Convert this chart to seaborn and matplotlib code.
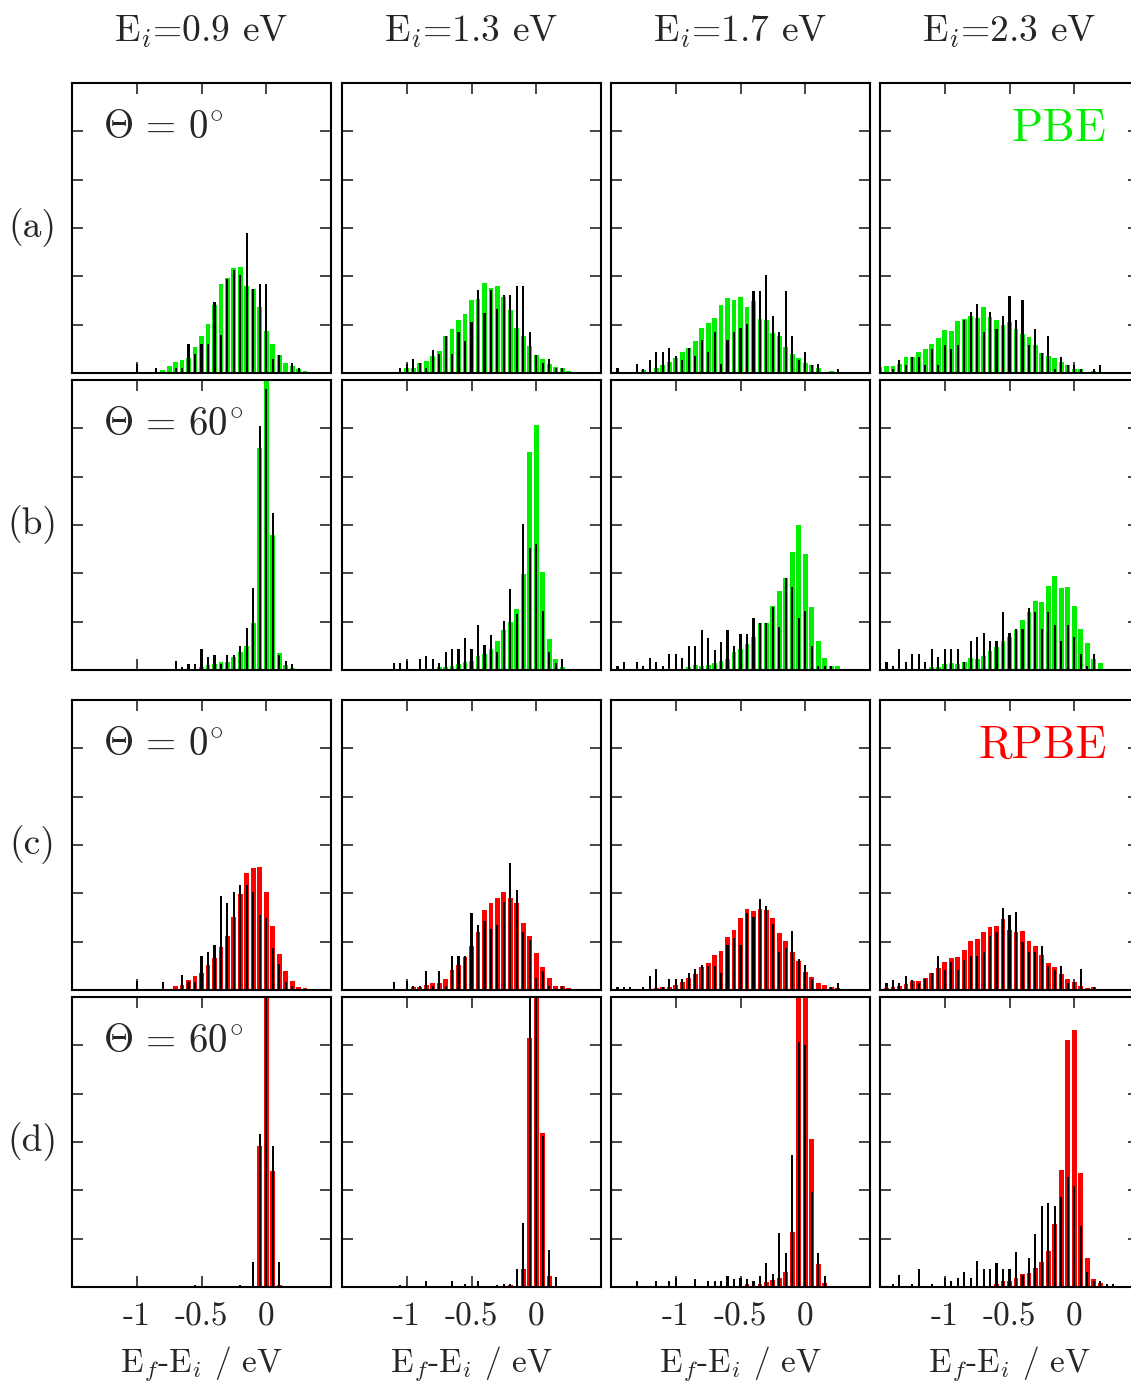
import numpy as np
import pandas as pd
import seaborn as sns
import matplotlib
matplotlib.use("Agg")
import matplotlib.pyplot as plt

# energy-loss bins (eV), 0.05 eV wide
e_bins = np.round(np.linspace(-1.5, 0.5, 41), 2)
edges = list(np.linspace(-1.525, 0.525, 42))
energies = ["0.9", "1.3", "1.7", "2.3"]

# row (a): PBE, Theta = 0
pbe0_09 = [0, 0, 0, 0, 0, 0, 0, 0, 0, 0,
           0, 0, 0.01, 0, 0.06, 0.15, 0.23, 0.27, 0.32, 0.54,
           0.77, 1.02, 1.40, 1.84, 1.97, 2.17, 2.19, 1.79, 1.73, 1.37,
           0.87, 0.59, 0.38, 0.21, 0.15, 0.09, 0.04, 0.03, 0.02, 0, 0]
blk_a09 = [0, 0, 0, 0, 0, 0, 0, 0, 0, 0,
           0.19, 0, 0, 0.10, 0, 0, 0.11, 0.11, 0.59, 0.40,
           0.59, 0.59, 1.46, 0.78, 1.94, 2.13, 2.03, 2.89, 1.73, 1.84,
           1.84, 0.29, 0.38, 0, 0.20, 0.10, 0, 0, 0, 0, 0]
pbe0_13 = [0, 0, 0, 0, 0.01, 0.01, 0.01, 0.02, 0.02, 0.03,
           0.10, 0.10, 0.20, 0.25, 0.35, 0.45, 0.76, 0.91, 1.09, 1.23,
           1.51, 1.53, 1.86, 1.75, 1.79, 1.57, 1.30, 0.93, 0.76, 0.56,
           0.38, 0.29, 0.19, 0.13, 0.10, 0.05, 0.03, 0.03, 0.01, 0, 0]
blk_a13 = [0, 0, 0, 0, 0, 0, 0, 0, 0, 0.11,
           0.19, 0.30, 0.20, 0.11, 0.48, 0.39, 0.76, 0.39, 0.85, 0.67,
           1.05, 1.71, 1.24, 1.71, 1.33, 1.61, 1.61, 1.80, 1.80, 0.85,
           0.38, 0.21, 0.29, 0.11, 0.11, 0, 0, 0, 0, 0, 0]
pbe0_17 = [0, 0, 0, 0.03, 0.01, 0.06, 0.02, 0.11, 0.16, 0.23,
           0.32, 0.43, 0.52, 0.66, 0.93, 1.04, 1.13, 1.40, 1.55, 1.51,
           1.57, 1.36, 1.48, 1.12, 1.10, 0.82, 0.76, 0.54, 0.39, 0.31,
           0.20, 0.17, 0.11, 0.03, 0.05, 0.02, 0.01, 0.01, 0.01, 0, 0]
blk_a17 = [0, 0.10, 0, 0, 0.18, 0.09, 0.27, 0.43, 0.43, 0.52,
           0.35, 0.27, 0.52, 0.35, 0.69, 0.43, 0.85, 0.18, 0.68, 0.85,
           0.93, 1.01, 1.69, 1.69, 2.03, 1.18, 0.85, 1.69, 0.76, 0.27,
           0.43, 0.16, 0.18, 0, 0, 0.09, 0, 0, 0, 0, 0]
pbe0_23 = [0.12, 0.14, 0.14, 0.19, 0.33, 0.34, 0.43, 0.49, 0.61, 0.72,
           0.90, 0.86, 1.07, 1.12, 1.18, 1.14, 1.37, 1.15, 1.09, 0.99,
           1.05, 0.91, 0.80, 0.74, 0.57, 0.42, 0.35, 0.31, 0.23, 0.16,
           0.09, 0.08, 0.03, 0.05, 0.01, 0.01, 0.01, 0.01, 0.01, 0, 0]
blk_a23 = [0, 0, 0.09, 0.26, 0.17, 0.34, 0.34, 0.17, 0.50, 0.17,
           0.58, 0.50, 0.58, 1.09, 1.26, 1.42, 0.84, 1.26, 0.92, 1.18,
           1.59, 1.09, 1.51, 0.58, 0.92, 0.42, 0.76, 0.09, 0.34, 0.17,
           0.17, 0.09, 0, 0.09, 0.17, 0, 0, 0, 0, 0, 0]

# row (b): PBE, Theta = 60
pbe60_09 = [0, 0, 0, 0, 0, 0, 0, 0, 0, 0,
            0, 0, 0, 0, 0.01, 0.01, 0.01, 0.02, 0.02, 0.03,
            0.07, 0.10, 0.12, 0.16, 0.17, 0.26, 0.37, 0.50, 0.97, 4.59,
            7.50, 2.79, 0.35, 0.10, 0.05, 0.02, 0.01, 0, 0, 0, 0]
blk_b09 = [0, 0, 0, 0, 0, 0, 0, 0, 0, 0,
           0, 0, 0, 0, 0, 0, 0.19, 0.06, 0.12, 0.12,
           0.43, 0.26, 0.31, 0.13, 0.31, 0.31, 0.50, 0.86, 1.69, 5.05,
           5.81, 3.24, 0.32, 0.19, 0.13, 0, 0, 0, 0, 0, 0]
pbe60_13 = [0, 0, 0, 0, 0.01, 0, 0, 0, 0, 0,
            0.03, 0.01, 0.01, 0.02, 0.02, 0.07, 0.06, 0.08, 0.13, 0.17,
            0.19, 0.28, 0.33, 0.43, 0.61, 0.83, 1.00, 1.26, 1.99, 4.52,
            5.07, 2.02, 0.64, 0.23, 0.06, 0.03, 0.01, 0.01, 0.01, 0, 0]
blk_b13 = [0, 0, 0, 0, 0, 0, 0, 0, 0.15, 0.15,
           0.19, 0, 0.22, 0.29, 0.22, 0.15, 0.37, 0.43, 0.43, 0.66,
           0.43, 0.94, 0.52, 0.72, 0.37, 1.01, 1.67, 1.16, 3.03, 2.53,
           2.60, 1.23, 0.37, 0.15, 0.22, 0, 0, 0, 0, 0, 0]
pbe60_17 = [0, 0, 0, 0, 0, 0, 0, 0, 0, 0,
            0.02, 0.02, 0.07, 0.10, 0.09, 0.11, 0.14, 0.19, 0.23, 0.38,
            0.43, 0.54, 0.69, 0.98, 0.98, 1.33, 1.63, 1.91, 2.45, 2.99,
            2.41, 1.30, 0.60, 0.25, 0.09, 0.09, 0.02, 0, 0, 0, 0]
blk_b17 = [0, 0.09, 0.17, 0, 0.17, 0.09, 0.25, 0.17, 0.09, 0.33,
           0.33, 0.25, 0.50, 0.50, 0.82, 0.66, 0.41, 0.58, 0.82, 0.50,
           0.74, 0.74, 1.07, 0.98, 0.98, 1.31, 0.90, 1.90, 1.72, 1.07,
           1.23, 0.50, 0.09, 0.09, 0.09, 0, 0, 0, 0, 0, 0]
pbe60_23 = [0, 0, 0, 0.03, 0.02, 0.03, 0.03, 0.03, 0.06, 0.07,
            0.12, 0.14, 0.12, 0.17, 0.24, 0.23, 0.30, 0.39, 0.47, 0.61,
            0.68, 0.83, 1.03, 1.19, 1.42, 1.40, 1.74, 1.94, 1.69, 1.72,
            1.32, 0.84, 0.55, 0.22, 0.14, 0.03, 0.03, 0, 0, 0, 0]
blk_b23 = [0, 0.17, 0.08, 0.43, 0.17, 0.34, 0.34, 0.17, 0.43, 0.26,
           0.43, 0.43, 0.43, 0.17, 0.60, 0.68, 0.77, 0.60, 0.60, 1.20,
           0.77, 0.84, 0.84, 1.28, 1.20, 0.84, 1.20, 0.94, 0.60, 0.94,
           0.68, 0.34, 0.08, 0.34, 0, 0, 0, 0, 0, 0, 0]

# row (c): RPBE, Theta = 0
rpbe0_09 = [0, 0, 0, 0, 0, 0, 0, 0, 0, 0,
            0, 0, 0, 0.01, 0.03, 0.03, 0.09, 0.11, 0.21, 0.28,
            0.36, 0.52, 0.67, 0.90, 1.12, 1.52, 1.99, 2.43, 2.53, 2.55,
            2.02, 1.32, 0.74, 0.39, 0.19, 0.07, 0.05, 0.02, 0.02, 0, 0]
blk_c09 = [0, 0, 0, 0, 0, 0, 0, 0, 0, 0,
           0.18, 0, 0, 0, 0.16, 0, 0, 0.32, 0.16, 0.16,
           0.70, 0.78, 0.93, 1.95, 1.80, 2.03, 2.18, 2.18, 2.03, 1.56,
           1.48, 0.86, 0.54, 0.16, 0.08, 0, 0, 0, 0, 0, 0]
rpbe0_13 = [0, 0, 0, 0, 0, 0.01, 0, 0.02, 0.02, 0.03,
            0.03, 0.06, 0.07, 0.10, 0.14, 0.15, 0.23, 0.41, 0.52, 0.68,
            0.92, 1.19, 1.66, 1.79, 1.90, 2.03, 1.90, 1.80, 1.39, 1.12,
            0.77, 0.48, 0.24, 0.09, 0.09, 0.05, 0.03, 0.03, 0.03, 0, 0]
blk_c13 = [0, 0, 0, 0, 0, 0, 0, 0, 0.16, 0,
           0.18, 0.08, 0.08, 0.40, 0.09, 0.40, 0.09, 0.71, 0.71, 0.71,
           1.59, 1.35, 1.43, 1.26, 1.35, 1.83, 2.62, 2.07, 1.19, 1.04,
           0.24, 0.40, 0.09, 0, 0.09, 0, 0, 0, 0, 0, 0]
rpbe0_17 = [0, 0, 0, 0, 0.02, 0.02, 0.03, 0.05, 0.07, 0.06,
            0.11, 0.17, 0.24, 0.34, 0.48, 0.56, 0.73, 0.81, 1.09, 1.24,
            1.48, 1.68, 1.63, 1.68, 1.66, 1.50, 1.17, 1.01, 0.79, 0.61,
            0.38, 0.26, 0.14, 0.11, 0.07, 0.05, 0.03, 0.02, 0.02, 0, 0]
blk_c17 = [0, 0.07, 0.07, 0.07, 0, 0.07, 0.30, 0.44, 0.07, 0.22,
           0.22, 0.22, 0.36, 0.44, 0.51, 0.50, 0.50, 0.36, 0.94, 1.08,
           0.94, 1.59, 1.52, 1.88, 1.74, 1.37, 0.79, 0.87, 1.23, 0.64,
           0.51, 0.22, 0, 0, 0.07, 0.15, 0, 0, 0, 0, 0]
rpbe0_23 = [0.03, 0.05, 0.07, 0.09, 0.12, 0.18, 0.19, 0.24, 0.36, 0.46,
            0.57, 0.66, 0.69, 0.82, 1.02, 1.06, 1.19, 1.30, 1.32, 1.46,
            1.24, 1.19, 1.22, 1.01, 0.91, 0.72, 0.56, 0.48, 0.34, 0.22,
            0.16, 0.09, 0.05, 0.07, 0.03, 0.02, 0.02, 0, 0, 0, 0]
blk_c23 = [0, 0.14, 0.21, 0.14, 0.29, 0.21, 0.14, 0.23, 0.36, 0.70,
           0.42, 0.57, 0.42, 0.63, 0.70, 0.70, 0.78, 1.12, 1.21, 1.70,
           1.55, 1.62, 0.99, 0.78, 0.78, 0.92, 0.50, 0.42, 0.50, 0.14,
           0.17, 0.43, 0, 0.07, 0, 0, 0, 0, 0, 0, 0]

# row (d): RPBE, Theta = 60
rpbe60_09 = [0, 0, 0, 0, 0, 0, 0, 0, 0, 0,
             0, 0, 0, 0, 0, 0, 0, 0.01, 0.01, 0,
             0.02, 0, 0, 0, 0.01, 0.01, 0.01, 0.02, 0.03, 2.91,
             8.00, 2.41, 0.05, 0, 0, 0, 0, 0, 0, 0, 0]
blk_d09 = [0, 0, 0, 0, 0, 0, 0, 0, 0, 0,
           0, 0, 0, 0, 0, 0, 0, 0, 0, 0.05,
           0, 0, 0, 0, 0, 0, 0.05, 0, 0.52, 3.16,
           7.50, 2.91, 0.52, 0, 0, 0, 0, 0, 0, 0, 0]
rpbe60_13 = [0, 0, 0, 0, 0, 0, 0, 0, 0, 0,
             0, 0, 0, 0, 0, 0.01, 0.01, 0.01, 0.01, 0.02,
             0.02, 0.02, 0.02, 0.01, 0.02, 0.02, 0.05, 0.03, 0.38, 5.16,
             9.00, 3.19, 0.22, 0.02, 0, 0, 0, 0, 0, 0, 0]
blk_d13 = [0, 0, 0, 0, 0, 0, 0, 0, 0, 0.05,
           0, 0, 0, 0.12, 0, 0, 0, 0.12, 0, 0.06,
           0, 0.12, 0, 0, 0.05, 0.06, 0.06, 0.38, 1.33, 7.00,
           7.00, 3.12, 0.76, 0.21, 0, 0, 0, 0, 0, 0, 0]
rpbe60_17 = [0, 0, 0, 0, 0, 0, 0, 0, 0, 0,
             0, 0, 0, 0, 0, 0, 0, 0, 0.01, 0.02,
             0.02, 0.06, 0.03, 0.06, 0.11, 0.14, 0.19, 0.32, 1.14, 8.00,
             8.00, 3.06, 0.48, 0.08, 0, 0, 0, 0, 0, 0, 0]
blk_d17 = [0, 0, 0, 0, 0.12, 0, 0, 0.12, 0, 0.12,
           0.18, 0, 0, 0.17, 0, 0.12, 0.12, 0.12, 0.22, 0.17,
           0.18, 0.17, 0.12, 0.22, 0.49, 0.27, 1.12, 0.70, 2.74, 5.06,
           5.00, 1.96, 0.70, 0.22, 0, 0, 0, 0, 0, 0, 0]
rpbe60_23 = [0, 0, 0.01, 0.01, 0.01, 0.01, 0.01, 0.01, 0.01, 0.01,
             0.01, 0.01, 0.01, 0.02, 0.02, 0.03, 0.03, 0.03, 0.07, 0.12,
             0.12, 0.18, 0.26, 0.29, 0.39, 0.52, 0.74, 1.30, 2.42, 5.12,
             5.32, 2.36, 0.60, 0.17, 0.08, 0.03, 0, 0, 0, 0, 0]
blk_d23 = [0, 0, 0.07, 0.25, 0, 0.07, 0.37, 0, 0.07, 0,
           0.18, 0.12, 0.18, 0.31, 0.18, 0.54, 0.37, 0.37, 0.50, 0.37,
           0.37, 0.72, 0.25, 0.60, 1.09, 1.68, 1.74, 1.68, 1.87, 2.28,
           2.09, 1.26, 0.31, 0.12, 0.12, 0.07, 0.07, 0, 0, 0, 0]

GREEN = "#00ee00"
RED = "#ff0000"

rows = [
    ("(a)", r"$\Theta\,=\,0^{\circ}$", GREEN,
     [pbe0_09, pbe0_13, pbe0_17, pbe0_23], [blk_a09, blk_a13, blk_a17, blk_a23]),
    ("(b)", r"$\Theta\,=\,60^{\circ}$", GREEN,
     [pbe60_09, pbe60_13, pbe60_17, pbe60_23], [blk_b09, blk_b13, blk_b17, blk_b23]),
    ("(c)", r"$\Theta\,=\,0^{\circ}$", RED,
     [rpbe0_09, rpbe0_13, rpbe0_17, rpbe0_23], [blk_c09, blk_c13, blk_c17, blk_c23]),
    ("(d)", r"$\Theta\,=\,60^{\circ}$", RED,
     [rpbe60_09, rpbe60_13, rpbe60_17, rpbe60_23], [blk_d09, blk_d13, blk_d17, blk_d23]),
]

sns.set_style("ticks")
plt.rcParams["font.family"] = ["cmr10", "DejaVu Serif"]
plt.rcParams["mathtext.fontset"] = "cm"
plt.rcParams["axes.formatter.use_mathtext"] = True
plt.rcParams["axes.unicode_minus"] = False

W, H = 1131, 1386
fig = plt.figure(figsize=(W / 100, H / 100), dpi=100)

col_left = [72, 342, 611, 880]
row_top = [83, 380, 700, 997]
pw, ph = 259, 290

for r, (tag, theta, color, colored, black) in enumerate(rows):
    for c in range(4):
        ax = fig.add_axes([col_left[c] / W, 1 - (row_top[r] + ph) / H, pw / W, ph / H])
        df = pd.DataFrame({"E": e_bins, "col": colored[c], "blk": black[c]})
        sns.histplot(data=df, x="E", weights="col", bins=edges, shrink=0.74,
                     color=color, alpha=1, linewidth=0, ax=ax)
        sns.histplot(data=df, x="E", weights="blk", bins=edges, shrink=0.33,
                     color="black", alpha=1, linewidth=0, ax=ax)
        ax.set_xlim(-1.5, 0.5)
        ax.set_ylim(0, 6)
        ax.set_xticks([-1, -0.5, 0])
        ax.set_yticks([1, 2, 3, 4, 5])
        ax.set_yticklabels([])
        ax.set_ylabel("")
        ax.tick_params(direction="in", length=8, width=1.2, top=True, right=True,
                       labelsize=24, pad=11)
        for s in ax.spines.values():
            s.set_linewidth(1.5)
            s.set_color("black")
        if r == 3:
            ax.set_xticklabels(["-1", "-0.5", "0"])
            ax.set_xlabel(r"E$_f$-E$_i$ / eV", fontsize=24, labelpad=9)
        else:
            ax.set_xticklabels([])
            ax.set_xlabel("")
        if c == 0:
            ax.text(0.12, 0.845, theta, transform=ax.transAxes, fontsize=28,
                    ha="left", va="center")
        if c == 3 and r == 0:
            ax.text(0.875, 0.84, "PBE", transform=ax.transAxes, fontsize=33,
                    ha="right", va="center", color=GREEN)
        if c == 3 and r == 2:
            ax.text(0.875, 0.84, "RPBE", transform=ax.transAxes, fontsize=33,
                    ha="right", va="center", color=RED)
        if r == 0:
            fig.text((col_left[c] + pw / 2) / W, 1 - 32 / H, "E$_i$=" + energies[c] + " eV",
                     fontsize=27, ha="center", va="center")
    fig.text(32 / W, 1 - (row_top[r] + ph / 2) / H, tag, fontsize=27,
             ha="center", va="center")

fig.savefig("out.png", dpi=100)
